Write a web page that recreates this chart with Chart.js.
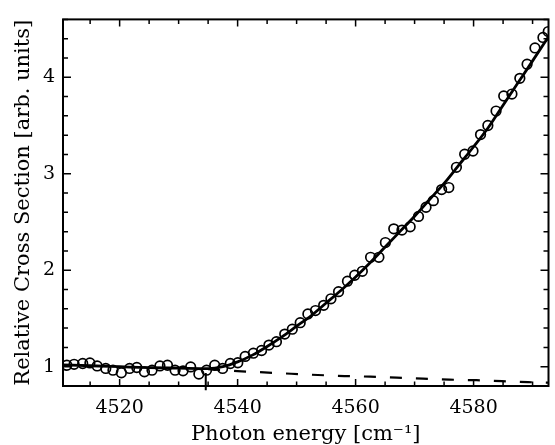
<!DOCTYPE html>
<html>
<head>
<meta charset="utf-8">
<script src="https://cdn.jsdelivr.net/npm/chart.js@4/dist/chart.umd.min.js"></script>
<style>
html,body{margin:0;padding:0;background:#fff;}
canvas{display:block;}
</style>
</head>
<body>
<canvas id="c" width="555" height="445"></canvas>
<script>
// Measured points (photon energy, relative cross section)
const energies = [4511.05, 4512.28, 4513.74, 4514.96, 4516.19, 4517.65, 4518.87, 4520.29, 4521.68, 4522.91,
  4524.20, 4525.49, 4526.83, 4528.11, 4529.40, 4530.75, 4532.04, 4533.43, 4534.73, 4536.12,
  4537.46, 4538.76, 4540.03, 4541.28, 4542.67, 4544.06, 4545.31, 4546.58, 4547.99, 4549.27,
  4550.61, 4551.91, 4553.20, 4554.59, 4555.82, 4557.11, 4558.62, 4559.85, 4561.14, 4562.54,
  4563.95, 4565.05, 4566.47, 4567.86, 4569.25, 4570.66, 4571.94, 4573.18, 4574.58, 4575.80,
  4577.09, 4578.49, 4579.90, 4581.18, 4582.42, 4583.81, 4585.11, 4586.50, 4587.84, 4589.07,
  4590.41, 4591.76, 4592.66];
const crossSection = [1.015, 1.025, 1.033, 1.039, 1.008, 0.982, 0.964, 0.937, 0.982, 0.992,
  0.947, 0.964, 1.008, 1.015, 0.964, 0.957, 0.998, 0.924, 0.964, 1.015,
  0.982, 1.033, 1.041, 1.107, 1.140, 1.168, 1.224, 1.259, 1.338, 1.389,
  1.456, 1.547, 1.582, 1.636, 1.704, 1.778, 1.887, 1.948, 1.989, 2.134,
  2.134, 2.287, 2.429, 2.416, 2.450, 2.558, 2.653, 2.721, 2.836, 2.857,
  3.067, 3.202, 3.236, 3.406, 3.500, 3.650, 3.806, 3.826, 3.989, 4.135,
  4.304, 4.413, 4.474];

// Fit curve (solid)
const fitEnergy = [4510.4, 4515, 4520, 4525, 4530, 4535, 4537.5, 4540, 4542.5, 4545, 4547.5, 4550,
  4552.5, 4555, 4557.5, 4560, 4562.5, 4565, 4567.5, 4570, 4572.5, 4575, 4577.5, 4580,
  4582.5, 4585, 4587.5, 4590, 4592.7];
const fitValue = [1.02, 1.01, 1.00, 0.99, 0.985, 0.98, 1.00, 1.05, 1.12, 1.21, 1.31, 1.42,
  1.53, 1.66, 1.79, 1.93, 2.08, 2.24, 2.40, 2.56, 2.73, 2.90, 3.09, 3.28,
  3.48, 3.71, 3.94, 4.17, 4.42];

// Background (dashed)
const bgEnergy = [4535, 4540, 4544.5, 4549.1, 4553.6, 4558.1, 4562.5, 4567, 4571.4, 4575.9, 4580.5, 4584.8, 4589.2, 4592.7];
const bgValue = [0.975, 0.954, 0.941, 0.927, 0.914, 0.903, 0.897, 0.886, 0.876, 0.866, 0.860, 0.850, 0.840, 0.834];

// Threshold marker
const thresholdEnergy = 4534.6;
const thresholdSpan = [0.935, 0.755];

const xMin = 4510.4, xMax = 4592.7, yMin = 0.8, yMax = 4.6;
const xMajorStep = 20, yMajorStep = 1;

const FONT = 'DejaVu Serif';

const frameTicks = {
  id: 'frameTicks',
  afterDraw(chart) {
    const {ctx, chartArea: a, scales: {x, y}} = chart;
    ctx.save();
    ctx.strokeStyle = '#000';
    ctx.lineWidth = 1.5;
    ctx.beginPath();
    x.ticks.forEach(t => {
      const px = x.getPixelForValue(t.value);
      const major = Math.abs(t.value / xMajorStep - Math.round(t.value / xMajorStep)) < 1e-6;
      const len = major ? 7 : 4.5;
      ctx.moveTo(px, a.bottom); ctx.lineTo(px, a.bottom - len);
      ctx.moveTo(px, a.top); ctx.lineTo(px, a.top + len);
    });
    y.ticks.forEach(t => {
      const py = y.getPixelForValue(t.value);
      const major = Math.abs(t.value / yMajorStep - Math.round(t.value / yMajorStep)) < 1e-6;
      const len = major ? 8 : 5;
      ctx.moveTo(a.left, py); ctx.lineTo(a.left + len, py);
      ctx.moveTo(a.right, py); ctx.lineTo(a.right - len, py);
    });
    ctx.stroke();
    ctx.lineWidth = 2;
    ctx.strokeRect(a.left, a.top, a.right - a.left, a.bottom - a.top);
    ctx.restore();
  }
};

new Chart(document.getElementById('c'), {
  type: 'scatter',
  data: {
    datasets: [
      {
        label: 'fit',
        data: fitEnergy.map((e, i) => ({x: e, y: fitValue[i]})),
        showLine: true, pointRadius: 0, borderColor: '#000', borderWidth: 2.8,
        cubicInterpolationMode: 'monotone', fill: false
      },
      {
        label: 'data',
        data: energies.map((e, i) => ({x: e, y: crossSection[i]})),
        showLine: false, pointRadius: 4.8, pointBorderWidth: 1.7,
        pointBorderColor: '#000', pointBackgroundColor: 'rgba(255,255,255,0)'
      },
      {
        label: 'background',
        data: bgEnergy.map((e, i) => ({x: e, y: bgValue[i]})),
        showLine: true, pointRadius: 0, borderColor: '#000', borderWidth: 2.2,
        borderDash: [12, 14], fill: false
      },
      {
        label: 'threshold',
        data: thresholdSpan.map(v => ({x: thresholdEnergy, y: v})),
        showLine: true, pointRadius: 0, borderColor: '#000', borderWidth: 2,
        clip: false, fill: false
      }
    ]
  },
  options: {
    responsive: false,
    animation: false,
    layout: {padding: {top: 13, right: 2, left: 0, bottom: 0}},
    plugins: {legend: {display: false}, tooltip: {enabled: false}},
    scales: {
      x: {
        type: 'linear', min: xMin, max: xMax,
        grid: {display: false, drawTicks: false},
        border: {display: false},
        ticks: {
          stepSize: 5, includeBounds: false, autoSkip: false, maxRotation: 0,
          padding: 11, color: '#000', font: {family: FONT, size: 19},
          callback: v => (Math.abs(v / xMajorStep - Math.round(v / xMajorStep)) < 1e-6 ? String(Math.round(v)) : '')
        },
        title: {display: true, text: 'Photon energy [cm\u207B\u00B9]', color: '#000',
          font: {family: FONT, size: 21, lineHeight: 1}, padding: {top: 0, bottom: 0}},
        afterFit: s => { s.height = 59; }
      },
      y: {
        type: 'linear', min: yMin, max: yMax,
        grid: {display: false, drawTicks: false},
        border: {display: false},
        ticks: {
          stepSize: 0.2, includeBounds: false, autoSkip: false,
          padding: 8, color: '#000', font: {family: FONT, size: 19},
          callback: v => (Math.abs(v / yMajorStep - Math.round(v / yMajorStep)) < 1e-6 ? String(Math.round(v)) : '')
        },
        title: {display: true, text: 'Relative Cross Section [arb. units]', color: '#000',
          font: {family: FONT, size: 21, lineHeight: 1}, padding: {top: 13.5, bottom: 0}},
        afterFit: s => { s.width = 63; }
      }
    }
  },
  plugins: [frameTicks]
});
</script>
</body>
</html>
